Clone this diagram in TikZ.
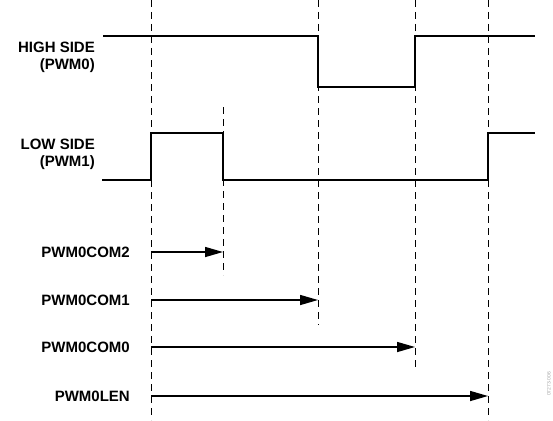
\documentclass[tikz,border=0pt]{standalone}
\usepackage{fontspec}
\setmainfont{Liberation Sans}
\usetikzlibrary{arrows.meta}
\tikzset{
  sig/.style={line width=2.4pt, line join=miter},
  guide/.style={line width=1pt, dash pattern=on 7pt off 5pt},
  meas/.style={line width=1.5pt, -{Triangle[length=18pt,width=10pt]}},
  lbl/.style={font=\fontsize{15}{17}\selectfont\bfseries, anchor=east, align=right, inner sep=0pt},
}
\begin{document}
\begin{tikzpicture}[x=1pt,y=-1pt]
\useasboundingbox (0,0) rectangle (553,420);
% guide line positions
\coordinate (gA) at (151,0);
\coordinate (gAb) at (151,420);
\coordinate (gB) at (223,107);
\coordinate (gBb) at (223,275);
\coordinate (gC) at (318,0);
\coordinate (gCb) at (318,325);
\coordinate (gD) at (415,0);
\coordinate (gDb) at (415,370);
\coordinate (gE) at (488,0);
\coordinate (gEb) at (488,420);
\draw[guide] (gA) -- (gAb);
\draw[guide] (gB) -- (gBb);
\draw[guide] (gC) -- (gCb);
\draw[guide] (gD) -- (gDb);
\draw[guide] (gE) -- (gEb);
% signals
\coordinate (hs) at (103,36);
\coordinate (he) at (535,36);
\coordinate (ls) at (102,180);
\coordinate (le) at (535,133);
\draw[sig] (hs) -- (318,36) -- (318,87) -- (415,87) -- (415,36) -- (he);
\draw[sig] (ls) -- (151,180) -- (151,133) -- (223,133) -- (223,180) -- (488,180) -- (488,133) -- (le);
% labels
\node[lbl] (hl) at (95,57) {HIGH SIDE\\(PWM0)};
\node[lbl] (ll) at (95,154) {LOW SIDE\\(PWM1)};
\node[lbl] (c2) at (130,252) {PWM0COM2};
\node[lbl] (c1) at (130,300) {PWM0COM1};
\node[lbl] (c0) at (130,347) {PWM0COM0};
\node[lbl] (ln) at (130,396) {PWM0LEN};
% measurement arrows
\coordinate (a2s) at (151,252); \coordinate (a2e) at (223,252);
\coordinate (a1s) at (151,300); \coordinate (a1e) at (318,300);
\coordinate (a0s) at (151,347); \coordinate (a0e) at (415,347);
\coordinate (aLs) at (151,396); \coordinate (aLe) at (488,396);
\draw[meas] (a2s) -- (a2e);
\draw[meas] (a1s) -- (a1e);
\draw[meas] (a0s) -- (a0e);
\draw[meas] (aLs) -- (aLe);
% figure id
\node[font=\fontsize{5}{6}\selectfont, text=black!35, rotate=90, inner sep=0pt] (fid) at (549,384) {07273-006};
\end{tikzpicture}
\end{document}
